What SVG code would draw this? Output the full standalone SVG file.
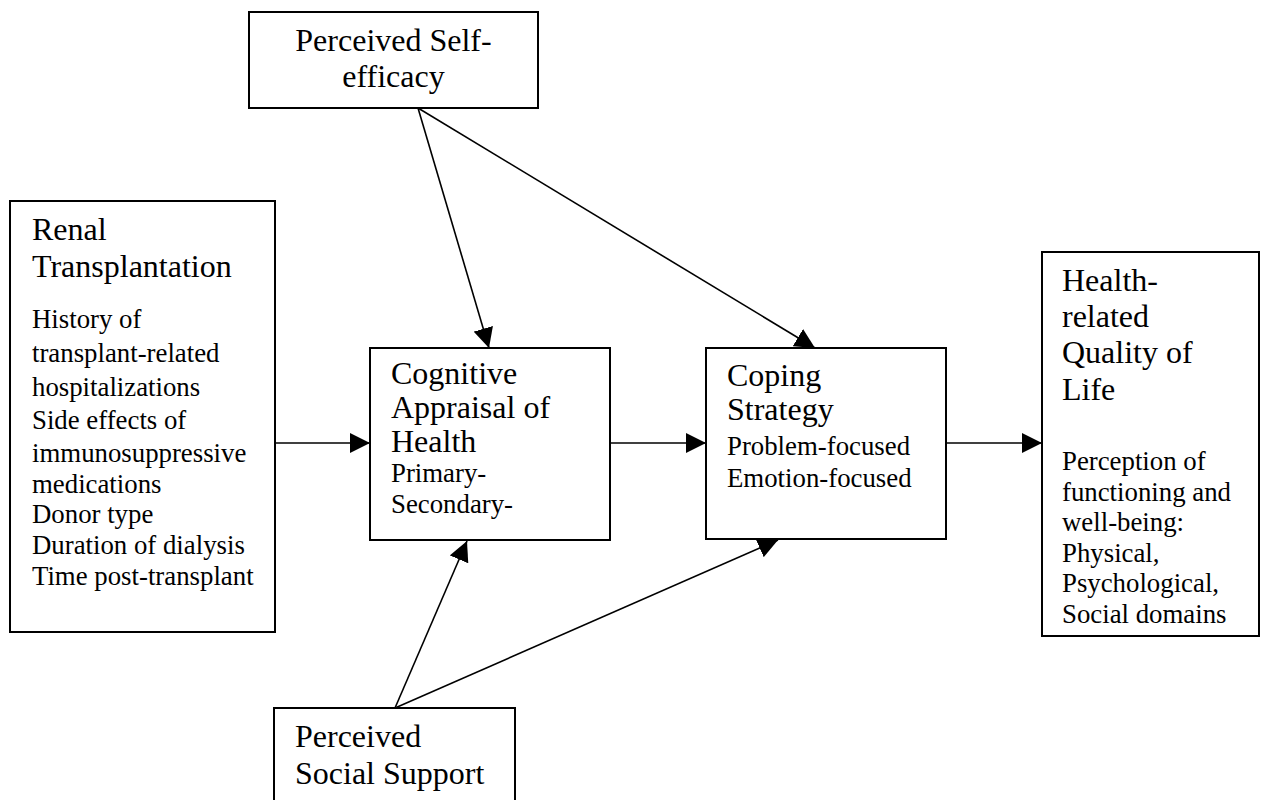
<svg xmlns="http://www.w3.org/2000/svg" width="1264" height="800" viewBox="0 0 1264 800">
  <style>
    .box { fill: #ffffff; stroke: #000000; stroke-width: 2; }
    .edge { fill: none; stroke: #000000; stroke-width: 1.6; }
    .title { font-family: "Liberation Serif", "Times New Roman", serif; font-size: 32px; fill: #000000; }
    .body { font-family: "Liberation Serif", "Times New Roman", serif; font-size: 26.8px; fill: #000000; }
  </style>
  <defs>
    <marker id="arrow" markerUnits="userSpaceOnUse" markerWidth="20" markerHeight="20" refX="20" refY="10" orient="auto">
      <path d="M0,0 L20,10 L0,20 Z" fill="#000000"/>
    </marker>
  </defs>
  <rect width="1264" height="800" fill="#ffffff"/>

  <g id="connectors">
    <line class="edge" x1="275" y1="443" x2="370" y2="443" marker-end="url(#arrow)"/>
    <line class="edge" x1="610" y1="443" x2="706" y2="443" marker-end="url(#arrow)"/>
    <line class="edge" x1="946" y1="443" x2="1042" y2="443" marker-end="url(#arrow)"/>
    <line class="edge" x1="418" y1="108" x2="489" y2="348" marker-end="url(#arrow)"/>
    <line class="edge" x1="418" y1="108" x2="815" y2="348" marker-end="url(#arrow)"/>
    <line class="edge" x1="395" y1="708" x2="467" y2="541" marker-end="url(#arrow)"/>
    <line class="edge" x1="395" y1="708" x2="778" y2="540" marker-end="url(#arrow)"/>
  </g>

  <g id="self-efficacy">
    <rect class="box" x="249" y="12" width="289" height="96"/>
    <text class="title" x="393.5" y="51" text-anchor="middle">Perceived Self-</text>
    <text class="title" x="393.5" y="87" text-anchor="middle">efficacy</text>
  </g>

  <g id="renal-transplantation">
    <rect class="box" x="10" y="201" width="265" height="431"/>
    <text class="title" x="32" y="240">Renal</text>
    <text class="title" x="32" y="277">Transplantation</text>
    <text class="body" x="32" y="328">History of</text>
    <text class="body" x="32" y="362">transplant-related</text>
    <text class="body" x="32" y="396">hospitalizations</text>
    <text class="body" x="32" y="429">Side effects of</text>
    <text class="body" x="32" y="462">immunosuppressive</text>
    <text class="body" x="32" y="493">medications</text>
    <text class="body" x="32" y="523">Donor type</text>
    <text class="body" x="32" y="554">Duration of dialysis</text>
    <text class="body" x="32" y="585">Time post-transplant</text>
  </g>

  <g id="cognitive-appraisal">
    <rect class="box" x="370" y="348" width="240" height="192"/>
    <text class="title" x="391" y="384">Cognitive</text>
    <text class="title" x="391" y="418">Appraisal of</text>
    <text class="title" x="391" y="452">Health</text>
    <text class="body" x="391" y="482">Primary-</text>
    <text class="body" x="391" y="513">Secondary-</text>
  </g>

  <g id="coping-strategy">
    <rect class="box" x="706" y="348" width="240" height="191"/>
    <text class="title" x="727" y="386">Coping</text>
    <text class="title" x="727" y="420">Strategy</text>
    <text class="body" x="727" y="455">Problem-focused</text>
    <text class="body" x="727" y="487">Emotion-focused</text>
  </g>

  <g id="quality-of-life">
    <rect class="box" x="1042" y="252" width="217" height="384"/>
    <text class="title" x="1062" y="291">Health-</text>
    <text class="title" x="1062" y="327">related</text>
    <text class="title" x="1062" y="363">Quality of</text>
    <text class="title" x="1062" y="400">Life</text>
    <text class="body" x="1062" y="470">Perception of</text>
    <text class="body" x="1062" y="501">functioning and</text>
    <text class="body" x="1062" y="531">well-being:</text>
    <text class="body" x="1062" y="562">Physical,</text>
    <text class="body" x="1062" y="592">Psychological,</text>
    <text class="body" x="1062" y="623">Social domains</text>
  </g>

  <g id="social-support">
    <rect class="box" x="274" y="708" width="241" height="110"/>
    <text class="title" x="295" y="747">Perceived</text>
    <text class="title" x="295" y="784">Social Support</text>
  </g>
</svg>
